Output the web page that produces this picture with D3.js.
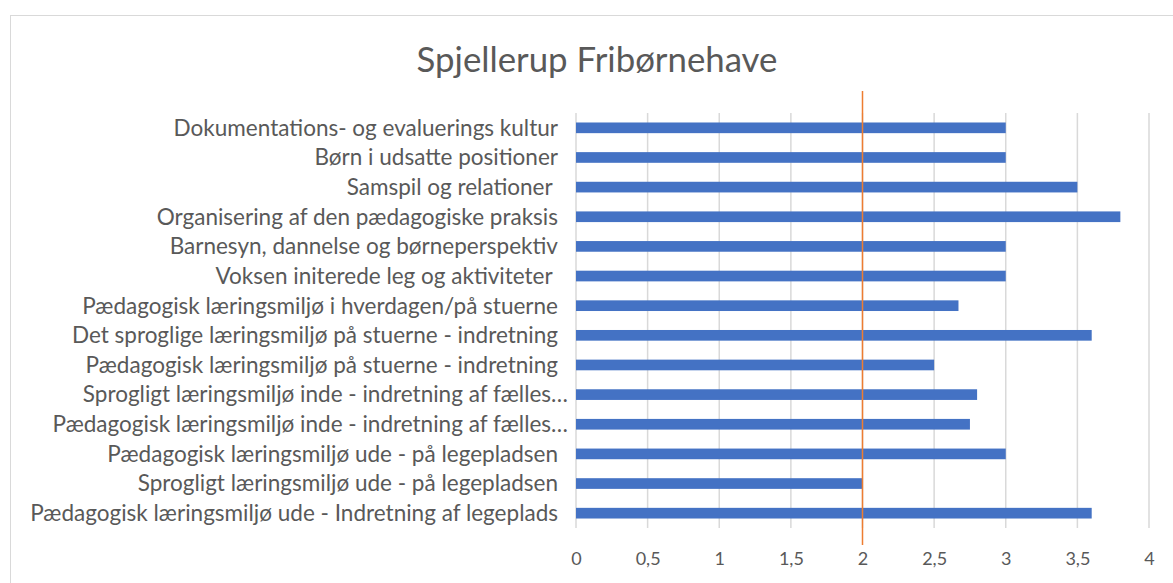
<!DOCTYPE html>
<html>
<head>
<meta charset="utf-8">
<script src="https://cdn.jsdelivr.net/npm/d3@7"></script>
<style>
  body { margin: 0; background: #fff; }
  text { font-family: Lato, "Open Sans", sans-serif; }
</style>
</head>
<body>
<div id="chart"></div>
<script>
var title = "Spjellerup Fribørnehave";

var categories = [
  "Dokumentations- og evaluerings kultur",
  "Børn i udsatte positioner",
  "Samspil og relationer ",
  "Organisering af den pædagogiske praksis",
  "Barnesyn, dannelse og børneperspektiv",
  "Voksen initerede leg og aktiviteter ",
  "Pædagogisk læringsmiljø i hverdagen/på stuerne",
  "Det sproglige læringsmiljø på stuerne - indretning",
  "Pædagogisk læringsmiljø på stuerne - indretning",
  "Sprogligt læringsmiljø inde - indretning af fælles…",
  "Pædagogisk læringsmiljø inde - indretning af fælles…",
  "Pædagogisk læringsmiljø ude - på legepladsen",
  "Sprogligt læringsmiljø ude - på legepladsen",
  "Pædagogisk læringsmiljø ude - Indretning af legeplads"
];

var values = [3, 3, 3.5, 3.8, 3, 3, 2.67, 3.6, 2.5, 2.8, 2.75, 3, 2, 3.6];

var ticks = [0, 0.5, 1, 1.5, 2, 2.5, 3, 3.5, 4];
var tickLabels = ["0", "0,5", "1", "1,5", "2", "2,5", "3", "3,5", "4"];

var refValue = 2;

var W = 1173, H = 583;
var margin = {top: 113, right: 24, bottom: 55, left: 576};
var width = W - margin.left - margin.right,
    height = H - margin.top - margin.bottom;

var svg = d3.select("#chart").append("svg")
    .attr("width", W)
    .attr("height", H);

// chart border
svg.append("rect")
    .attr("x", 10.5).attr("y", 15.5)
    .attr("width", W + 10).attr("height", H + 10)
    .attr("fill", "#fff")
    .attr("stroke", "#d9d9d9")
    .attr("stroke-width", 1);

var x = d3.scaleLinear().domain([0, 4]).range([0, width]);
var y = d3.scaleBand().domain(categories).range([0, height]).paddingInner(0.64).paddingOuter(0.32);

var g = svg.append("g")
    .attr("transform", "translate(" + margin.left + "," + margin.top + ")");

// gridlines
g.append("g").selectAll("line")
    .data(ticks)
    .enter().append("line")
    .attr("x1", function(d) { return x(d); })
    .attr("x2", function(d) { return x(d); })
    .attr("y1", 0)
    .attr("y2", height)
    .attr("stroke", "#d9d9d9")
    .attr("stroke-width", 1.5);

// bars
g.append("g").selectAll("rect")
    .data(values)
    .enter().append("rect")
    .attr("x", x(0))
    .attr("y", function(d, i) { return y(categories[i]); })
    .attr("width", function(d) { return x(d) - x(0); })
    .attr("height", y.bandwidth())
    .attr("fill", "#4472c4");

// reference line
g.append("line")
    .attr("x1", x(refValue)).attr("x2", x(refValue))
    .attr("y1", -22).attr("y2", height + 17)
    .attr("stroke", "#ed7d31")
    .attr("stroke-width", 1.5);

// category labels (truncated ones sit a little further right, like excel)
var labels = g.append("g").selectAll("text")
    .data(categories)
    .enter().append("text")
    .attr("x", function(d) { return d.slice(-1) == "…" ? -8 : -18; })
    .attr("y", function(d) { return y(d) + y.bandwidth() / 2; })
    .attr("dy", "0.35em")
    .attr("text-anchor", "end")
    .attr("fill", "#595959")
    .attr("font-size", 17)
    .style("white-space", "pre")
    .text(function(d) { return d; });

// fit label size to the widest label (528px in the reference)
var maxW = d3.max(labels.nodes(), function(n) { return n.getComputedTextLength(); });
labels.attr("font-size", 17 * 528 / maxW);

// x tick labels
var xAxis = d3.axisBottom(x).tickValues(ticks)
    .tickSize(0).tickPadding(0)
    .tickFormat(function(d, i) { return tickLabels[i]; });

var ax = g.append("g")
    .attr("transform", "translate(0," + (height + 31) + ")")
    .call(xAxis);
ax.select(".domain").remove();
ax.selectAll("text")
    .attr("fill", "#595959")
    .attr("font-size", 18)
    .attr("dy", "0.35em")
    .style("font-family", "Lato, \"Open Sans\", sans-serif");

// title
var t = svg.append("text")
    .attr("x", 597)
    .attr("y", 72)
    .attr("text-anchor", "middle")
    .attr("fill", "#595959")
    .attr("font-size", 28)
    .text(title);
var tw = t.node().getComputedTextLength();
t.attr("font-size", 28 * 361 / tw);
</script>
</body>
</html>
